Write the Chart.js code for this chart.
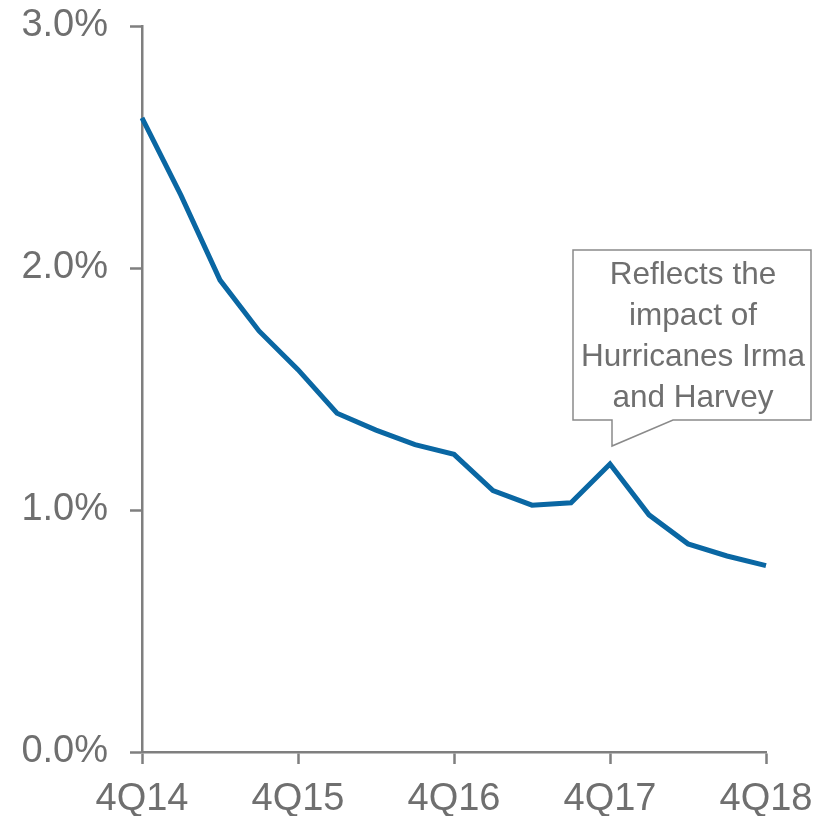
<!DOCTYPE html>
<html>
<head>
<meta charset="utf-8">
<script src="https://cdn.jsdelivr.net/npm/chart.js@4.4.1/dist/chart.umd.min.js"></script>
<style>
  html, body { margin: 0; padding: 0; background: #fff; }
  #wrap { width: 815px; height: 816px; }
</style>
</head>
<body>
<div id="wrap"><canvas id="chart" width="815" height="816"></canvas></div>
<script>
// quarterly data
const quarters = ['4Q14', '1Q15', '2Q15', '3Q15', '4Q15', '1Q16', '2Q16', '3Q16', '4Q16',
                  '1Q17', '2Q17', '3Q17', '4Q17', '1Q18', '2Q18', '3Q18', '4Q18'];
const ratioValues = [2.62, 2.30, 1.95, 1.74, 1.58, 1.40, 1.33, 1.27, 1.23,
                     1.08, 1.02, 1.03, 1.19, 0.98, 0.86, 0.81, 0.77];
const yTickValues = [0, 1, 2, 3];
const calloutLines = ['Reflects the', 'impact of', 'Hurricanes Irma', 'and Harvey'];
const calloutIndex = 12; // 4Q17

const axisGray = '#7f7f7f';
const textGray = '#6f6f6f';
const lineBlue = '#0a67a3';
const fontFamily = '"Liberation Sans", Arial, sans-serif';

// callout box drawn after the chart, anchored on the 4Q17 point
const calloutPlugin = {
    id: 'callout',
    afterDraw(chart) {
        const ctx = chart.ctx;
        const xs = chart.scales.x, ys = chart.scales.y;
        const px = xs.getPixelForValue(calloutIndex);
        const py = ys.getPixelForValue(ratioValues[calloutIndex]);

        const left = px - 37, right = px + 201;
        const top = ys.getPixelForValue(2.0) - 18;
        const bottom = py - 44;
        const tipX = px + 2, tipY = py - 18;
        const tailRight = px + 63;

        ctx.save();
        ctx.beginPath();
        ctx.moveTo(left, top);
        ctx.lineTo(right, top);
        ctx.lineTo(right, bottom);
        ctx.lineTo(tailRight, bottom);
        ctx.lineTo(tipX, tipY);
        ctx.lineTo(tipX, bottom);
        ctx.lineTo(left, bottom);
        ctx.closePath();
        ctx.fillStyle = '#ffffff';
        ctx.fill();
        ctx.strokeStyle = '#8a8a8a';
        ctx.lineWidth = 1.5;
        ctx.stroke();

        ctx.fillStyle = textGray;
        ctx.font = '31.5px ' + fontFamily;
        ctx.textAlign = 'center';
        ctx.textBaseline = 'middle';
        const cx = (left + right) / 2;
        calloutLines.forEach((line, i) => {
            ctx.fillText(line, cx + 1, top + 25 + i * 41);
        });
        ctx.restore();
    }
};

const ctx = document.getElementById('chart').getContext('2d');
new Chart(ctx, {
    type: 'line',
    data: {
        labels: quarters,
        datasets: [{
            data: ratioValues,
            borderColor: lineBlue,
            borderWidth: 5,
            pointRadius: 0,
            tension: 0,
            fill: false
        }]
    },
    options: {
        responsive: false,
        animation: false,
        layout: {
            padding: { left: 0, right: 49, top: 26, bottom: 0 }
        },
        plugins: {
            legend: { display: false },
            tooltip: { enabled: false }
        },
        scales: {
            x: {
                type: 'category',
                offset: false,
                border: { color: axisGray, width: 2.5 },
                grid: {
                    drawOnChartArea: false,
                    tickLength: 12,
                    tickWidth: 2.5,
                    tickColor: (c) => (c.index % 4 === 0 ? axisGray : 'rgba(0,0,0,0)')
                },
                ticks: {
                    autoSkip: false,
                    maxRotation: 0,
                    padding: 13,
                    color: textGray,
                    font: { family: fontFamily, size: 38 },
                    callback: (value, index) => (index % 4 === 0 ? quarters[index] : '')
                },
                afterFit: (scale) => {
                    scale.height = 64;
                    scale.paddingLeft = 0;
                    scale.paddingRight = 0;
                }
            },
            y: {
                min: 0,
                max: 3,
                border: { color: axisGray, width: 2.5 },
                grid: {
                    drawOnChartArea: false,
                    tickLength: 12,
                    tickWidth: 2.5,
                    tickColor: axisGray
                },
                afterBuildTicks: (scale) => {
                    scale.ticks = yTickValues.map(v => ({ value: v }));
                },
                ticks: {
                    padding: 22,
                    color: textGray,
                    font: { family: fontFamily, size: 38 },
                    callback: (value) => value.toFixed(1) + '%'
                },
                afterFit: (scale) => {
                    scale.width = 142;
                    scale.paddingTop = 0;
                    scale.paddingBottom = 0;
                }
            }
        }
    },
    plugins: [calloutPlugin]
});
</script>
</body>
</html>
